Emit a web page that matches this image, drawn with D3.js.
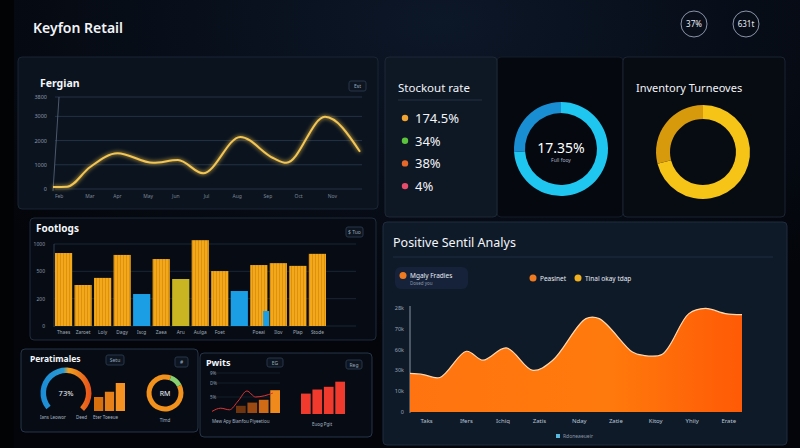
<!DOCTYPE html>
<html>
<head>
<meta charset="utf-8">
<script src="https://cdn.jsdelivr.net/npm/d3@7"></script>
<style>
  body { margin: 0; background: #04060b; }
  svg { display: block; font-family: "Noto Sans", "DejaVu Sans", sans-serif; }
</style>
</head>
<body>
<script>
// ---- data ----
var trendWeeks = [0, 4.6, 12, 21, 32.6, 40.7, 48.9, 61, 71.7, 76, 88.6, 100];
var trendValues = [80, 90, 900, 1480, 1080, 1200, 650, 2150, 1280, 1080, 2980, 1540];
var trendTicks = [0, 1000, 2000, 3000, 3800];
var trendLabels = ["Feb", "Mar", "Apr", "May", "Jun", "Jul", "Aug", "Sep", "Oct", "Nov"];
var trendLabelWeeks = [2, 12, 21, 31, 40, 50, 60, 70, 80, 91];

var stockValues = ["174.5%", "34%", "38%", "4%"];
var stockColors = ["#f0a330", "#5cc43c", "#e8682a", "#e84c6c"];

var stockDonut = [74, 26];
var turnoverDonut = [71, 29];

var footCats = ["Thaes", "Zaroet", "Loiy", "Dagy", "Iscg", "Zaea", "Aru", "Aulga", "Foet", "", "Poeai", "Ilov", "Plap", "Stode"];
var footValues = [1335, 750, 880, 1300, 585, 1225, 860, 1570, 1005, 640, 1115, 1150, 1100, 1320];
var footKinds = ["o", "o", "o", "o", "b", "o", "y", "o", "o", "b", "o", "o", "o", "o"];
var footExtra = [0, 0, 0, 0, 0, 0, 0, 0, 0, 0, 275, 0, 0, 0];
var footTicks = [0, 500, 1000, 1500];
var footTickLabels = ["0", "200", "500", "1000"];

var sentX = [0, 4, 9, 17, 22, 29, 37, 43, 53, 57, 67, 70, 76, 84, 89, 95, 100];
var sentValues = [927, 900, 830, 1460, 1245, 1540, 1000, 1245, 2245, 2245, 1440, 1365, 1390, 2365, 2490, 2365, 2340];
var sentTicks = [0, 500, 1000, 1500, 2000, 2500];
var sentTickLabels = ["0", "10k", "30k", "60k", "70k", "28k"];
var sentLabels = ["Taks", "Ifers", "Ichiq", "Zatis", "Nday", "Zatie", "Kitoy", "Yhiiy", "Erate"];
var sentLabelX = [5, 17, 28, 39, 51, 62, 74, 85, 96];

var gaugeValue = 73;
var perfBars = [40, 55, 80];
var perfDonut = [88, 12];

var profitBars = [18, 26, 33, 57];
var profitLine = [4, 12, 8, 30, 55, 40, 43, 50];
var profitBars2 = [60, 72, 80, 95];

// ---- setup ----
var W = 800, H = 448;
var svg = d3.select("body").append("svg").attr("width", W).attr("height", H);
var defs = svg.append("defs");

var bgGrad = defs.append("radialGradient").attr("id", "bgGlow").attr("cx", "0.55").attr("cy", "0.05").attr("r", "0.7");
bgGrad.append("stop").attr("offset", "0").attr("stop-color", "#0c1728");
bgGrad.append("stop").attr("offset", "1").attr("stop-color", "#03050a");
svg.append("rect").attr("width", W).attr("height", H).attr("fill", "url(#bgGlow)");

var glow = defs.append("filter").attr("id", "glow").attr("x", "-20%").attr("y", "-20%").attr("width", "140%").attr("height", "140%");
glow.append("feGaussianBlur").attr("stdDeviation", 2).attr("result", "b");
var fm = glow.append("feMerge");
fm.append("feMergeNode").attr("in", "b");
fm.append("feMergeNode").attr("in", "SourceGraphic");

function panel(x, y, w, h, fill, stroke) {
  svg.append("rect").attr("x", x).attr("y", y).attr("width", w).attr("height", h)
    .attr("rx", 4).attr("fill", fill).attr("stroke", stroke || "#1f2b3b").attr("stroke-width", 1);
}
function label(x, y, t, size, color, anchor, weight) {
  return svg.append("text").attr("x", x).attr("y", y).text(t)
    .attr("font-size", size).attr("fill", color || "#fff")
    .attr("text-anchor", anchor || "start").attr("font-weight", weight || "normal");
}
function chip(x, y, w, h, t) {
  svg.append("rect").attr("x", x).attr("y", y).attr("width", w).attr("height", h).attr("rx", 2)
    .attr("fill", "#0c1520").attr("stroke", "#26354a");
  label(x + w / 2, y + h / 2 + 2, t, 5, "#9aa8b8", "middle");
}

// ---- header ----
svg.append("rect").attr("x", 0).attr("y", 0).attr("width", 14).attr("height", H).attr("fill", "#020305");
label(33, 33, "Keyfon Retail", 14, "#f2f4f8", "start", "600");
[[694, "37%"], [746, "631t"]].forEach(function (c) {
  svg.append("circle").attr("cx", c[0]).attr("cy", 24).attr("r", 13).attr("fill", "none").attr("stroke", "#8a93a8").attr("stroke-width", 1);
  label(c[0], 27, c[1], 8, "#e8ecf4", "middle");
});

// ---- panel 1: line chart ----
panel(18, 57, 360, 152, "#0a131e", "#1a2534");
label(40, 87, "Fergian", 10.5, "#f4f6fa", "start", "bold");
chip(349, 81, 17, 10, "Est");
var tx = d3.scaleLinear().domain([0, 100]).range([53, 360]);
var ty = d3.scaleLinear().domain([0, 3800]).range([189, 97]);
var g1 = svg.append("g");
g1.selectAll("line.grid").data(trendTicks).enter().append("line")
  .attr("x1", 55).attr("x2", 362).attr("y1", function (d) { return ty(d); }).attr("y2", function (d) { return ty(d); })
  .attr("stroke", "#2a3a4f").attr("stroke-width", 0.8);
g1.append("line").attr("x1", 53).attr("x2", 59).attr("y1", 191).attr("y2", 97).attr("stroke", "#5a6a80").attr("stroke-width", 0.8);
g1.selectAll("text.yl").data(trendTicks).enter().append("text")
  .attr("x", 47).attr("y", function (d) { return ty(d) + 2; }).attr("text-anchor", "end")
  .attr("font-size", 5.5).attr("fill", "#8c98a8").text(function (d) { return d; });
g1.selectAll("text.xl").data(trendLabels).enter().append("text")
  .attr("x", function (d, i) { return tx(trendLabelWeeks[i]); }).attr("y", 198).attr("text-anchor", "middle")
  .attr("font-size", 5).attr("fill", "#7d8898").text(function (d) { return d; });
var trendLine = d3.line().x(function (d, i) { return tx(trendWeeks[i]); }).y(function (d) { return ty(d); })
  .curve(d3.curveMonotoneX);
g1.append("path").datum(trendValues).attr("d", trendLine).attr("fill", "none")
  .attr("stroke", "#f3c552").attr("stroke-width", 2).attr("filter", "url(#glow)");

// ---- panel 2: stockout ----
panel(497, 57, 126, 160, "#05080e", "#141c28");
panel(385, 57, 112, 160, "#0e1825", "#1c2736");
label(398, 92, "Stockout rate", 11.5, "#f2f4f8");
svg.append("line").attr("x1", 398).attr("x2", 482).attr("y1", 100).attr("y2", 100).attr("stroke", "#223044");
svg.selectAll("circle.sd").data(stockValues).enter().append("circle")
  .attr("cx", 405).attr("cy", function (d, i) { return 118 + i * 22.7; }).attr("r", 3.2)
  .attr("fill", function (d, i) { return stockColors[i]; });
svg.selectAll("text.sv").data(stockValues).enter().append("text")
  .attr("x", 415).attr("y", function (d, i) { return 123 + i * 22.7; })
  .attr("font-size", 13).attr("fill", "#f2f4f8").text(function (d) { return d; });

var pie = d3.pie().sort(null);
var arcBlue = d3.arc().innerRadius(36).outerRadius(47);
var gb = svg.append("g").attr("transform", "translate(561,149)");
gb.selectAll("path").data(pie(stockDonut)).enter().append("path")
  .attr("d", arcBlue).attr("fill", function (d, i) { return ["#1ec6f0", "#1a8ed2"][i]; });
label(561, 153, "17.35%", 14, "#ffffff", "middle");
label(561, 162, "Full fooy", 5, "#a8b4c4", "middle");

// ---- panel 3: inventory turnover ----
panel(623, 57, 162, 160, "#070b12", "#1a2432");
label(636, 92, "Inventory Turneoves", 11, "#f2f4f8");
var arcYel = d3.arc().innerRadius(33).outerRadius(47);
var gy = svg.append("g").attr("transform", "translate(703,152)");
gy.selectAll("path").data(pie(turnoverDonut)).enter().append("path")
  .attr("d", arcYel).attr("fill", function (d, i) { return ["#f6c416", "#d79a0c"][i]; });

// ---- panel 4: bars ----
panel(30, 218, 346, 122, "#070c14", "#1f2b3b");
label(36, 232, "Footlogs", 10, "#f4f6fa", "start", "bold");
chip(346, 227, 17, 10, "$ Tuo");
var fx = d3.scaleBand().domain(d3.range(footValues.length)).range([55, 326]).paddingInner(0.12);
var fy = d3.scaleLinear().domain([0, 1500]).range([326, 244]);
var g4 = svg.append("g");
g4.selectAll("line.grid").data(footTicks).enter().append("line")
  .attr("x1", 54).attr("x2", 356).attr("y1", function (d) { return fy(d); }).attr("y2", function (d) { return fy(d); })
  .attr("stroke", "#1f2c3d").attr("stroke-width", 0.8);
g4.append("line").attr("x1", 54).attr("x2", 54).attr("y1", 244).attr("y2", 327).attr("stroke", "#3a4a60").attr("stroke-width", 0.8);
g4.selectAll("text.yl").data(footTicks).enter().append("text")
  .attr("x", 45).attr("y", function (d) { return fy(d) + 2; }).attr("text-anchor", "end")
  .attr("font-size", 5).attr("fill", "#8c98a8").text(function (d, i) { return footTickLabels[i]; });
var stripe = defs.append("pattern").attr("id", "stripe").attr("width", 3).attr("height", 4).attr("patternUnits", "userSpaceOnUse");
stripe.append("rect").attr("width", 3).attr("height", 4).attr("fill", "#f2a818");
stripe.append("rect").attr("width", 0.8).attr("height", 4).attr("fill", "#d98a10");
var kindFill = { o: "url(#stripe)", b: "#1c9ee4", y: "#c9b422" };
g4.selectAll("rect.bar").data(footValues).enter().append("rect")
  .attr("x", function (d, i) { return fx(i); }).attr("width", fx.bandwidth())
  .attr("y", function (d) { return fy(d); }).attr("height", function (d) { return 326 - fy(d); })
  .attr("fill", function (d, i) { return kindFill[footKinds[i]]; });
g4.selectAll("rect.extra").data(footExtra).enter().append("rect")
  .filter(function (d) { return d > 0; })
  .attr("x", function (d) { return fx(footExtra.indexOf(d)) + fx.bandwidth() * 0.75; }).attr("width", fx.bandwidth() * 0.35)
  .attr("y", function (d) { return fy(d); }).attr("height", function (d) { return 326 - fy(d); })
  .attr("fill", "#1c9ee4");
g4.selectAll("text.xl").data(footCats).enter().append("text")
  .attr("x", function (d, i) { return fx(i) + fx.bandwidth() / 2; }).attr("y", 334).attr("text-anchor", "middle")
  .attr("font-size", 4.8).attr("fill", "#a0acba").text(function (d) { return d; });

// ---- panel 5: area ----
panel(383, 222, 404, 223, "#0f1a29", "#1f2c3e");
label(393, 247, "Positive Sentil Analys", 12.5, "#f4f6fa");
svg.append("line").attr("x1", 393).attr("x2", 773).attr("y1", 257).attr("y2", 257).attr("stroke", "#1f2d40");
svg.append("rect").attr("x", 395).attr("y", 267).attr("width", 73).attr("height", 22).attr("rx", 6).attr("fill", "#15223a");
svg.append("circle").attr("cx", 403).attr("cy", 275.5).attr("r", 3.5).attr("fill", "#f07a20");
label(410, 278, "Mgaly Fradies", 6.5, "#e8ecf2");
label(410, 285, "Dosed you", 4.5, "#8c98a8");
svg.append("circle").attr("cx", 533).attr("cy", 278).attr("r", 3.5).attr("fill", "#f07a20");
label(540, 280.5, "Peasinet", 6.5, "#e8ecf2");
svg.append("circle").attr("cx", 578).attr("cy", 278).attr("r", 3.5).attr("fill", "#f0b020");
label(585, 280.5, "Tinal okay tdap", 6.5, "#e8ecf2");

var sx = d3.scaleLinear().domain([0, 100]).range([410, 742]);
var sy = d3.scaleLinear().domain([0, 2500]).range([412, 308]);
var areaGrad = defs.append("linearGradient").attr("id", "areaGrad").attr("x1", 0).attr("x2", 1).attr("y1", 0).attr("y2", 0);
areaGrad.append("stop").attr("offset", "0").attr("stop-color", "#ff7410");
areaGrad.append("stop").attr("offset", "0.6").attr("stop-color", "#ff7a0c");
areaGrad.append("stop").attr("offset", "1").attr("stop-color", "#ff5a06");
var g5 = svg.append("g");
g5.append("line").attr("x1", 410).attr("x2", 410).attr("y1", 306).attr("y2", 413).attr("stroke", "#a8b4c4").attr("stroke-width", 0.8);
g5.selectAll("text.yl").data(sentTicks).enter().append("text")
  .attr("x", 404).attr("y", function (d) { return sy(d) + 2; }).attr("text-anchor", "end")
  .attr("font-size", 5.5).attr("fill", "#9aa6b6").text(function (d, i) { return sentTickLabels[i]; });
var sArea = d3.area().x(function (d, i) { return sx(sentX[i]); }).y0(sy(0)).y1(function (d) { return sy(d); })
  .curve(d3.curveCatmullRom.alpha(0.5));
var sLine = d3.line().x(function (d, i) { return sx(sentX[i]); }).y(function (d) { return sy(d); })
  .curve(d3.curveCatmullRom.alpha(0.5));
g5.append("path").datum(sentValues).attr("d", sArea).attr("fill", "url(#areaGrad)");
g5.append("path").datum(sentValues).attr("d", sLine).attr("fill", "none").attr("stroke", "#ffd9b0").attr("stroke-width", 1.2);
g5.selectAll("text.xl").data(sentLabels).enter().append("text")
  .attr("x", function (d, i) { return sx(sentLabelX[i]); }).attr("y", 423).attr("text-anchor", "middle")
  .attr("font-size", 6).attr("fill", "#b8c4d2").text(function (d) { return d; });
svg.append("rect").attr("x", 556).attr("y", 434).attr("width", 4).attr("height", 4).attr("fill", "#58b8e0");
label(563, 438, "Rdoneaeueir", 5, "#8c98a8");

// ---- panel 6: performance ----
panel(21, 349, 177, 83, "#070c14", "#26344a");
label(30, 362, "Peratimales", 8.5, "#f4f6fa", "start", "bold");
chip(106, 355, 18, 10, "Setu");
chip(175, 357, 13, 10, "#");
var gaugeGrad = defs.append("linearGradient").attr("id", "gaugeGrad").attr("x1", 0).attr("x2", 1).attr("y1", 0).attr("y2", 0);
gaugeGrad.append("stop").attr("offset", "0").attr("stop-color", "#1a8cd8");
gaugeGrad.append("stop").attr("offset", "0.45").attr("stop-color", "#2a9ad0");
gaugeGrad.append("stop").attr("offset", "0.55").attr("stop-color", "#f0a020");
gaugeGrad.append("stop").attr("offset", "1").attr("stop-color", "#e8501a");
var ga = d3.scaleLinear().domain([0, 100]).range([-Math.PI * 0.72, Math.PI * 0.75]);
svg.append("path").attr("transform", "translate(66,393)")
  .attr("d", d3.arc().innerRadius(20).outerRadius(25.5).startAngle(ga(0)).endAngle(ga(100))())
  .attr("fill", "url(#gaugeGrad)");
label(66, 396, gaugeValue + "%", 7.5, "#f2f4f8", "middle");
label(40, 419, "Ians Leowor", 4.5, "#a8b4c4");
label(76, 419, "Deed", 4.5, "#a8b4c4");
var px = d3.scaleBand().domain(d3.range(perfBars.length)).range([94, 125]).paddingInner(0.15);
var py = d3.scaleLinear().domain([0, 100]).range([411, 376]);
svg.selectAll("rect.pb").data(perfBars).enter().append("rect")
  .attr("x", function (d, i) { return px(i); }).attr("width", px.bandwidth())
  .attr("y", function (d) { return py(d); }).attr("height", function (d) { return 411 - py(d); })
  .attr("fill", function (d, i) { return ["#d8700e", "#e8801a", "#f59222"][i]; });
label(93, 419, "Eter Toeeue", 4.5, "#a8b4c4");
var gp = svg.append("g").attr("transform", "translate(165,393)");
gp.selectAll("path").data(d3.pie().sort(null).startAngle(Math.PI * 0.35).endAngle(Math.PI * 2.35)(perfDonut)).enter().append("path")
  .attr("d", d3.arc().innerRadius(13.5).outerRadius(18.5)).attr("fill", function (d, i) { return ["#f2921c", "#86d070"][i]; });
label(165, 396, "RM", 7, "#f2f4f8", "middle");
label(165, 422, "Tlmd", 4.5, "#a8b4c4", "middle");

// ---- panel 7: profits ----
panel(200, 353, 172, 84, "#070c14", "#26344a");
label(206, 366, "Pwits", 9, "#f4f6fa", "start", "bold");
chip(267, 358, 16, 9, "EG");
chip(346, 360, 16, 9, "Reg");
var qy = d3.scaleLinear().domain([0, 100]).range([413, 373]);
[40, 75, 100].forEach(function (t, i) {
  svg.append("line").attr("x1", 210).attr("x2", 280).attr("y1", qy(t)).attr("y2", qy(t)).attr("stroke", "#1c2838").attr("stroke-width", 0.6);
});
label(210, 375, "9%", 4.5, "#8c98a8");
label(210, 385, "D%", 4.5, "#8c98a8");
label(210, 399, "5%", 4.5, "#8c98a8");
var qx = d3.scaleBand().domain(d3.range(profitBars.length)).range([236, 280]).paddingInner(0.15);
svg.selectAll("rect.qb").data(profitBars).enter().append("rect")
  .attr("x", function (d, i) { return qx(i); }).attr("width", qx.bandwidth())
  .attr("y", function (d) { return qy(d); }).attr("height", function (d) { return 413 - qy(d); })
  .attr("fill", function (d, i) { return ["#6e3410", "#9c4a12", "#cf6a16", "#f08a1c"][i]; });
var lx = d3.scaleLinear().domain([0, profitLine.length - 1]).range([212, 273]);
svg.append("path").datum(profitLine)
  .attr("d", d3.line().x(function (d, i) { return lx(i); }).y(function (d) { return qy(d); }).curve(d3.curveMonotoneX))
  .attr("fill", "none").attr("stroke", "#e23434").attr("stroke-width", 1);
label(212, 423, "Mew Apy Bianfou Piyeetiou", 4.5, "#a8b4c4");
var rx = d3.scaleBand().domain(d3.range(profitBars2.length)).range([301, 345]).paddingInner(0.15);
var ry = d3.scaleLinear().domain([0, 100]).range([414, 380]);
svg.selectAll("rect.rb").data(profitBars2).enter().append("rect")
  .attr("x", function (d, i) { return rx(i); }).attr("width", rx.bandwidth())
  .attr("y", function (d) { return ry(d); }).attr("height", function (d) { return 414 - ry(d); })
  .attr("fill", "#f03a2e");
label(322, 426, "Euog Pgit", 4.5, "#a8b4c4", "middle");
</script>
</body>
</html>
